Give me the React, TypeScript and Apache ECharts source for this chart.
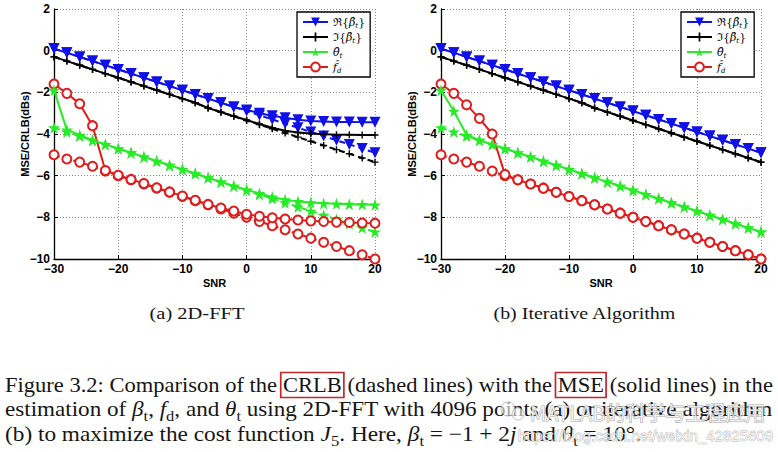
import React, { useEffect, useRef } from "react";
import * as echarts from "echarts";

// ---------- data ----------
const snr = [-30, -28, -26, -24, -22, -20, -18, -16, -14, -12, -10, -8, -6, -4, -2, 0, 2, 4, 6, 8, 10, 12, 14, 16, 18, 20];
const xTicks = { min: -30, max: 20, interval: 10 };
const yTicks = { min: -10, max: 2, interval: 2 };

// CRLB (dashed), same in both panels
const reBetaCrlb = [0.1, -0.1, -0.3, -0.5, -0.7, -0.9, -1.1, -1.3, -1.5, -1.7, -1.9, -2.1, -2.3, -2.5, -2.7, -2.9, -3.1, -3.3, -3.5, -3.7, -3.9, -4.1, -4.3, -4.5, -4.7, -4.9];
const imBetaCrlb = [-0.3, -0.5, -0.7, -0.9, -1.1, -1.3, -1.5, -1.7, -1.9, -2.1, -2.3, -2.5, -2.75, -2.95, -3.15, -3.35, -3.55, -3.75, -3.95, -4.15, -4.35, -4.55, -4.75, -4.95, -5.15, -5.35];
const thetaCrlb = [-3.7, -3.9, -4.1, -4.3, -4.5, -4.7, -4.9, -5.1, -5.3, -5.5, -5.7, -5.9, -6.1, -6.3, -6.5, -6.7, -6.9, -7.1, -7.3, -7.5, -7.7, -7.9, -8.1, -8.3, -8.5, -8.7];
const fdCrlb = [-5.0, -5.2, -5.35, -5.55, -5.78, -6.0, -6.2, -6.4, -6.6, -6.8, -7.0, -7.2, -7.4, -7.6, -7.8, -8.0, -8.2, -8.4, -8.6, -8.8, -9.0, -9.2, -9.4, -9.6, -9.8, -10.0];

// MSE (solid), (a) 2D-FFT
const reBetaMseFft = [0.1, -0.1, -0.3, -0.5, -0.7, -0.9, -1.1, -1.3, -1.5, -1.7, -1.9, -2.1, -2.3, -2.5, -2.7, -2.85, -3.0, -3.12, -3.22, -3.32, -3.38, -3.4, -3.42, -3.42, -3.43, -3.43];
const imBetaMseFft = [-0.3, -0.5, -0.7, -0.9, -1.1, -1.3, -1.5, -1.7, -1.9, -2.1, -2.3, -2.5, -2.75, -2.95, -3.15, -3.33, -3.52, -3.7, -3.84, -3.93, -3.98, -4.01, -4.03, -4.04, -4.05, -4.05];
const thetaMseFft = [-1.9, -3.8, -4.05, -4.3, -4.5, -4.7, -4.9, -5.1, -5.3, -5.5, -5.7, -5.9, -6.1, -6.3, -6.5, -6.68, -6.85, -7.02, -7.15, -7.24, -7.29, -7.33, -7.35, -7.37, -7.38, -7.4];
const fdMseFft = [-1.6, -2.05, -2.55, -3.6, -5.75, -5.98, -6.18, -6.38, -6.58, -6.78, -6.98, -7.18, -7.38, -7.55, -7.7, -7.85, -7.95, -8.02, -8.08, -8.13, -8.17, -8.2, -8.23, -8.25, -8.27, -8.28];

// MSE (solid), (b) Iterative Algorithm
const reBetaMseIter = [0.1, -0.1, -0.3, -0.5, -0.7, -0.9, -1.1, -1.3, -1.5, -1.7, -1.9, -2.1, -2.3, -2.5, -2.7, -2.9, -3.1, -3.3, -3.5, -3.7, -3.9, -4.1, -4.3, -4.5, -4.7, -4.9];
const imBetaMseIter = [-0.3, -0.5, -0.7, -0.9, -1.1, -1.3, -1.5, -1.7, -1.9, -2.1, -2.3, -2.5, -2.75, -2.95, -3.15, -3.35, -3.55, -3.75, -3.95, -4.15, -4.35, -4.55, -4.75, -4.95, -5.15, -5.35];
const thetaMseIter = [-1.9, -2.9, -4.05, -4.3, -4.5, -4.7, -4.9, -5.1, -5.3, -5.5, -5.7, -5.9, -6.1, -6.3, -6.5, -6.7, -6.9, -7.1, -7.3, -7.5, -7.7, -7.9, -8.1, -8.3, -8.5, -8.7];
const fdMseIter = [-1.6, -2.05, -2.6, -3.25, -4.0, -5.95, -6.2, -6.4, -6.6, -6.8, -7.0, -7.2, -7.4, -7.6, -7.8, -8.0, -8.2, -8.4, -8.6, -8.8, -9.0, -9.2, -9.4, -9.6, -9.8, -10.0];

const legendNames = ["Re", "Im", "Th", "Fd"];
const legendLabels: Record<string, string> = {
  Re: "ℜ{{i|β̂}{s|t}}",
  Im: "ℑ{{i|β̂}{s|t}}",
  Th: "{i|θ̂}{s|t}",
  Fd: "{i|f̂}{s|d}",
};
const subCaptions = ["(a) 2D-FFT", "(b) Iterative Algorithm"];
const xName = "SNR";
const yName = "MSE/CRLB(dBs)";

// ---------- styling ----------
const BLUE = "#1010e8";
const BLACK = "#000000";
const GREEN = "#26ec26";
const RED = "#e01c1c";
const SANS = '"Liberation Sans", Arial, sans-serif';
const SERIF = '"Liberation Serif", "Times New Roman", serif';

const STAR = "path://M0,-10L2.245,-3.09L9.511,-3.09L3.633,1.18L5.878,8.09L0,3.82L-5.878,8.09L-3.633,1.18L-9.511,-3.09L-2.245,-3.09Z";
const PLUS = "path://M4,0H6V4H10V6H6V10H4V6H0V4H4Z";

const grids = [
  { left: 54, top: 9, width: 321, height: 250 },
  { left: 441, top: 9, width: 320, height: 250 },
];

type Frag = { t: string; k?: "i" | "s" | "box" };

let ctx: CanvasRenderingContext2D | null = null;
function measure(text: string, size: number, italic: boolean) {
  if (!ctx) ctx = document.createElement("canvas").getContext("2d");
  if (!ctx) return text.length * size * 0.45;
  ctx.font = `${italic ? "italic " : ""}${size}px ${SERIF}`;
  return ctx.measureText(text).width;
}

function buildLine(frags: Frag[], x0: number, x1: number, yMid: number, size: number) {
  let cursor = 0;
  const children: any[] = [];
  for (const f of frags) {
    const fs = f.k === "s" ? Math.round(size * 0.7) : size;
    const italic = f.k === "i";
    const w = measure(f.t, fs, italic);
    children.push({
      type: "text",
      x: cursor,
      y: f.k === "s" ? size * 0.3 : 0,
      style: {
        text: f.t,
        fontFamily: SERIF,
        fontSize: fs,
        fontStyle: italic ? "italic" : "normal",
        fill: "#151515",
        verticalAlign: "middle",
        align: "left",
      },
    });
    if (f.k === "box") {
      children.push({
        type: "rect",
        shape: { x: cursor - 2, y: -12.5, width: w + 4, height: 25 },
        style: { fill: "none", stroke: "#c4262e", lineWidth: 1.6, strokeNoScale: true },
      });
    }
    cursor += w;
  }
  return { type: "group", x: x0, y: yMid, scaleX: (x1 - x0) / cursor, children };
}

function fitText(text: string, cx: number, y: number, width: number, size: number) {
  const w = measure(text, size, false);
  const s = width / w;
  return {
    type: "group",
    x: cx - width / 2,
    y,
    scaleX: s,
    children: [
      { type: "text", x: 0, y: 0, style: { text, fontFamily: SERIF, fontSize: size, fill: "#151515", verticalAlign: "middle" } },
    ],
  };
}

const pairs = (v: number[]) => snr.map((x, i) => [x, v[i]]);

function mk(name: string, data: number[], gi: number, color: string, symbol: string, size: number, dashed: boolean, rotate = 0) {
  return {
    type: "line",
    name,
    xAxisIndex: gi,
    yAxisIndex: gi,
    data: pairs(data),
    symbol,
    symbolSize: size,
    symbolRotate: rotate,
    showAllSymbol: true,
    lineStyle: { color, width: 2, type: dashed ? [6, 4] : "solid" },
    itemStyle: { color, borderColor: color, borderWidth: symbol === "emptyCircle" ? 1.8 : 0 },
    emphasis: { disabled: true },
    z: dashed ? 2 : 3,
  };
}

function panelSeries(gi: number, re: number[], im: number[], th: number[], fd: number[]) {
  return [
    mk("Fd_c" + gi, fdCrlb, gi, RED, "emptyCircle", 9, true),
    mk("Th_c" + gi, thetaCrlb, gi, GREEN, STAR, 12, true),
    mk("Im_c" + gi, imBetaCrlb, gi, BLACK, PLUS, 7, true),
    mk("Re_c" + gi, reBetaCrlb, gi, BLUE, "triangle", 11, true, 180),
    mk("Fd", fd, gi, RED, "emptyCircle", 9, false),
    mk("Th", th, gi, GREEN, STAR, 12, false),
    mk("Im", im, gi, BLACK, PLUS, 7, false),
    mk("Re", re, gi, BLUE, "triangle", 11, false, 180),
  ];
}

const minus = (v: number) => (v < 0 ? "\u2212" + Math.abs(v) : String(v));

function buildOption(): any {
  const axisCommon = {
    axisLine: { show: true, onZero: false, lineStyle: { color: "#000", width: 1.3 } },
    axisTick: { show: true, inside: true, length: 4, lineStyle: { color: "#000", width: 1 } },
    axisLabel: { margin: 4, fontFamily: SANS, fontWeight: "bold", fontSize: 12, color: "#000", formatter: minus },
    splitLine: { show: true, lineStyle: { type: [1, 2], color: "#8a8a8a", width: 1 } },
    nameLocation: "middle",
    nameMoveOverlap: false,
    nameTextStyle: { fontFamily: SANS, fontWeight: "bold", fontSize: 11, color: "#000" },
  };

  const line1: Frag[] = [
    { t: "Figure 3.2: Comparison of the " },
    { t: "CRLB", k: "box" },
    { t: " (dashed lines) with the " },
    { t: "MSE", k: "box" },
    { t: " (solid lines) in the" },
  ];
  const line2: Frag[] = [
    { t: "estimation of " }, { t: "β", k: "i" }, { t: "t", k: "s" }, { t: ", " },
    { t: "f", k: "i" }, { t: "d", k: "s" }, { t: ", and " }, { t: "θ", k: "i" }, { t: "t", k: "s" },
    { t: " using 2D-FFT with 4096 points (a) or iterative algorithm" },
  ];
  const line3: Frag[] = [
    { t: "(b) to maximize the cost function " }, { t: "J", k: "i" }, { t: "5", k: "s" },
    { t: ". Here, " }, { t: "β", k: "i" }, { t: "t", k: "s" }, { t: " = −1 + 2" }, { t: "j", k: "i" },
    { t: " and " }, { t: "θ", k: "i" }, { t: "t", k: "s" }, { t: " = 10°." },
  ];

  const graphic: any[] = [
    fitText(subCaptions[0], 197, 314, 95, 16),
    fitText(subCaptions[1], 585, 314, 183, 16),
    buildLine(line1, 5, 773, 385, 21),
    buildLine(line2, 5, 773, 409, 21),
    buildLine(line3, 5, 641, 434, 21),
    // watermark
    { type: "circle", shape: { cx: 508, cy: 409, r: 7 }, style: { fill: "rgba(255,255,255,0.6)", stroke: "rgba(150,150,150,0.6)", lineWidth: 1 }, z: 20 },
    { type: "circle", shape: { cx: 518, cy: 414, r: 6 }, style: { fill: "rgba(255,255,255,0.6)", stroke: "rgba(150,150,150,0.6)", lineWidth: 1 }, z: 20 },
    {
      type: "text", x: 530, y: 412, z: 20,
      style: { text: "MATLAB的科学与工程应用", fontFamily: '"Noto Sans CJK SC", sans-serif', fontSize: 20, fill: "rgba(255,255,255,0.8)", stroke: "rgba(120,120,120,0.7)", lineWidth: 1, verticalAlign: "middle" },
    },
    {
      type: "text", x: 773, y: 435, z: 20,
      style: { text: "https://blog.csdn.net/weixin_42825609", fontFamily: SANS, fontSize: 15, fill: "rgba(255,255,255,0.8)", stroke: "rgba(120,120,120,0.6)", lineWidth: 0.8, align: "right", verticalAlign: "middle" },
    },
  ];

  return {
    animation: false,
    backgroundColor: "#fff",
    grid: grids,
    xAxis: grids.map((_, i) => ({
      type: "value",
      gridIndex: i,
      min: xTicks.min,
      max: xTicks.max,
      interval: xTicks.interval,
      name: xName,
      nameGap: 18,
      ...axisCommon,
    })),
    yAxis: grids.map((_, i) => ({
      type: "value",
      gridIndex: i,
      min: yTicks.min,
      max: yTicks.max,
      interval: yTicks.interval,
      name: yName,
      nameGap: 24,
      ...axisCommon,
    })),
    legend: [297, 681].map((left) => ({
      show: true,
      orient: "vertical",
      left,
      top: 12,
      data: legendNames,
      selectedMode: false,
      itemWidth: 25,
      itemHeight: 11,
      itemGap: 1,
      padding: [3, 5, 3, 5],
      backgroundColor: "#fff",
      borderColor: "#000",
      borderWidth: 1.3,
      borderRadius: 0,
      formatter: (n: string) => legendLabels[n] || n,
      textStyle: {
        fontFamily: '"DejaVu Serif", serif',
        fontSize: 11,
        color: "#000",
        lineHeight: 14,
        rich: {
          i: { fontFamily: '"DejaVu Serif", serif', fontStyle: "italic", fontSize: 11, color: "#000", lineHeight: 14 },
          s: { fontFamily: '"DejaVu Serif", serif', fontStyle: "italic", fontSize: 7, color: "#000", lineHeight: 14, verticalAlign: "bottom" },
        },
      },
    })),
    series: [
      ...panelSeries(0, reBetaMseFft, imBetaMseFft, thetaMseFft, fdMseFft),
      ...panelSeries(1, reBetaMseIter, imBetaMseIter, thetaMseIter, fdMseIter),
    ],
    graphic,
  };
}

export default function App() {
  const ref = useRef<HTMLDivElement>(null);
  useEffect(() => {
    document.body.style.margin = "0";
    const chart = echarts.init(ref.current!, undefined, { renderer: "svg", width: 778, height: 452 });
    chart.setOption(buildOption());
    return () => chart.dispose();
  }, []);
  return <div ref={ref} style={{ width: 778, height: 452, background: "#fff" }} />;
}
